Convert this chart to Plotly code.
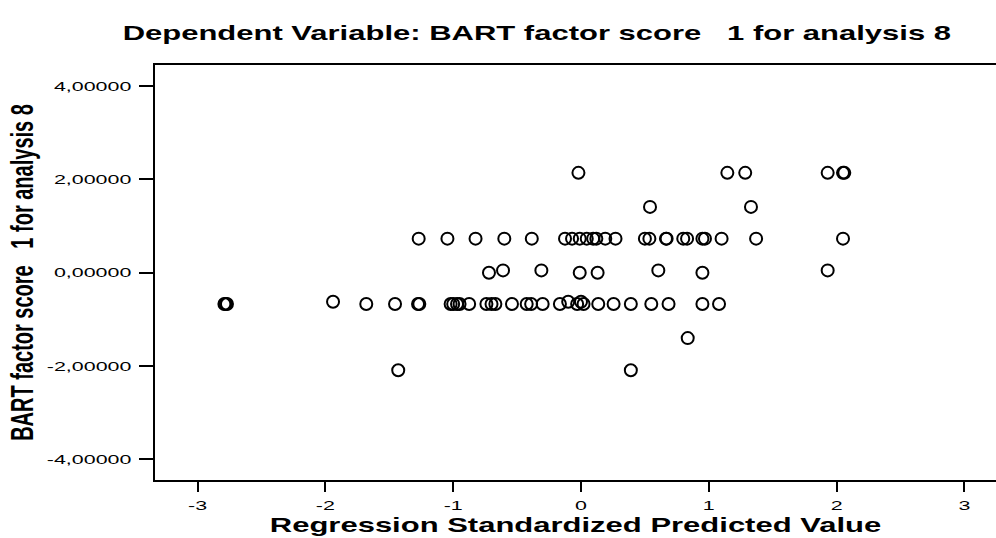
import plotly.graph_objects as go

# ----------------------------------- Data -----------------------------------

# residual score rows (BART factor score) and the predicted values found on each row
score_levels = [2.14, 1.41, 0.73, 0.05, 0.0, -0.67, -0.62, -1.40, -2.09]
pred_by_level = [
    [-0.02, 1.145, 1.285, 1.93, 2.05, 2.06],
    [0.54, 1.33],
    [-1.27, -1.045, -0.825, -0.60, -0.385, -0.125, -0.07, -0.01, 0.045, 0.095, 0.12,
     0.19, 0.27, 0.50, 0.535, 0.665, 0.67, 0.80, 0.83, 0.95, 0.97, 1.10, 1.37, 2.05],
    [-0.61, -0.31, 0.605, 1.93],
    [-0.72, -0.01, 0.13, 0.95],
    [-2.79, -2.78, -2.77, -1.68, -1.455, -1.275, -1.265, -1.02, -1.0, -0.97, -0.95,
     -0.875, -0.74, -0.70, -0.67, -0.54, -0.425, -0.39, -0.30, -0.165, -0.03, 0.02,
     0.135, 0.255, 0.39, 0.55, 0.685, 0.95, 1.08],
    [-1.94, -0.10, 0.00],
    [0.835],
    [-1.43, 0.39],
]

x_ticks = [-3, -2, -1, 0, 1, 2, 3]
x_tick_labels = ["-3", "-2", "-1", "0", "1", "2", "3"]
y_ticks = [-4, -2, 0, 2, 4]
y_tick_labels = ["-4,00000", "-2,00000", "0,00000", "2,00000", "4,00000"]

title_text = "Dependent Variable: BART factor score   1 for analysis 8"
x_title = "Regression Standardized Predicted Value"
y_title = "BART factor score   1 for analysis 8"

# ----------------------------------- Figure -----------------------------------

pred = []
score = []
for level, preds in zip(score_levels, pred_by_level):
    pred += preds
    score += [level] * len(preds)

fig = go.Figure()
fig.add_trace(go.Scatter(
    x=pred, y=score, mode='markers',
    marker=dict(symbol='circle-open', size=12, color='black', line=dict(width=2, color='black')),
))

fig.update_layout(
    width=996, height=538,
    margin=dict(l=155, r=0, t=65, b=58, autoexpand=False),
    paper_bgcolor='white', plot_bgcolor='white',
    font=dict(family='Liberation Sans, Arial, sans-serif', color='black'),
    showlegend=False,
    title=dict(text=title_text, x=0.539, xanchor='center', xref='container',
               y=1 - 33 / 538, yanchor='middle', yref='container',
               font=dict(size=20, weight='bold', color='black')),
)

fig.update_xaxes(
    range=[-3.333, 3.247], tickvals=x_ticks, ticktext=x_tick_labels, automargin=False,
    showgrid=False, zeroline=False, showline=True, linecolor='black', linewidth=2, mirror=True,
    ticks='outside', ticklen=10, tickwidth=2, tickcolor='black', ticklabelstandoff=2,
    tickfont=dict(size=13),
    title=dict(text=x_title, standoff=6, font=dict(size=20, weight='bold')),
)
fig.update_yaxes(
    range=[-4.44, 4.45], tickvals=y_ticks, ticktext=y_tick_labels, automargin=False,
    showgrid=False, zeroline=False, showline=True, linecolor='black', linewidth=2,
    ticks='outside', ticklen=14, tickwidth=2, tickcolor='black', ticklabelstandoff=5,
    tickfont=dict(size=13),
    title=dict(text=y_title, standoff=45, font=dict(size=20, weight='bold')),
)

# the reference chart is stretched sideways, so widen the texts the same way
# (and drop the page margin so the figure sits at the window's corner)
stretch_js = """
document.body.style.margin = '0';
var gd = document.getElementById('{plot_id}');
function stretch(sel, k, vertical) {
  gd.querySelectorAll(sel).forEach(function (t) {
    var b = t.getBBox();
    var base = t.getAttribute('transform') || '';
    if (vertical) {
      var cy = b.y + b.height / 2;
      t.setAttribute('transform', base + ' translate(0,' + cy + ') scale(1,' + k + ') translate(0,' + (-cy) + ')');
    } else {
      var anchor = t.getAttribute('text-anchor');
      var ax = anchor === 'end' ? b.x + b.width : (anchor === 'start' ? b.x : b.x + b.width / 2);
      t.setAttribute('transform', base + ' translate(' + ax + ',0) scale(' + k + ',1) translate(' + (-ax) + ',0)');
    }
  });
}
stretch('text.gtitle', 1.55, false);
stretch('text.xtitle', 1.55, false);
stretch('text.ytitle', 1.55, true);
stretch('g.xtick text', 1.65, false);
stretch('g.ytick text', 1.65, false);
"""

fig.write_html("out.html", post_script=stretch_js, config={'displayModeBar': False})
